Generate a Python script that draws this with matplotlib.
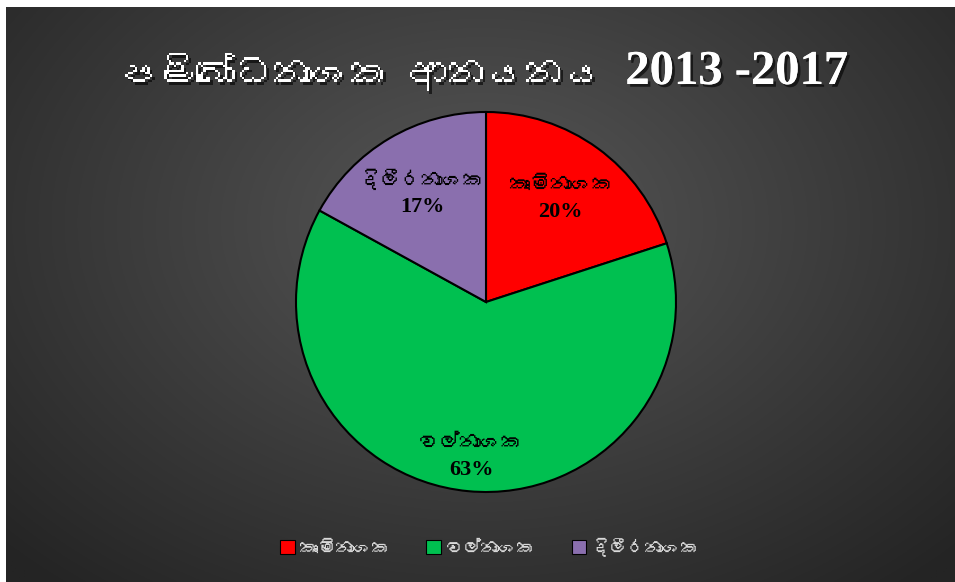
import numpy as np
import matplotlib
matplotlib.use("Agg")
import matplotlib.pyplot as plt
from matplotlib import font_manager
from matplotlib.ft2font import FT2Font
import matplotlib.patheffects as pe
from matplotlib.patches import Patch

# ---- data ----
categories = ["කෘමිනාශක", "වල්නාශක", "දිලීරනාශක"]
shares = [20, 63, 17]
colors = ["#FF0000", "#00C050", "#8A6FAE"]
title_si = "පළිබෝධනාශක ආනයනය"
title_years = "2013 -2017"

# find a font with Sinhala glyphs, if any
sinhala_fonts = []
for f in font_manager.fontManager.ttflist:
    try:
        ft = FT2Font(f.fname)
        if 0x0D9A in ft.get_charmap():
            sinhala_fonts.append(f.name)
    except Exception:
        pass
sinhala_fonts = list(dict.fromkeys(sinhala_fonts))

W, H = 955, 582
fig = plt.figure(figsize=(W / 100, H / 100), dpi=100)
fig.patch.set_facecolor("white")

# background gradient panel
bg = fig.add_axes([6 / W, 0, (W - 6) / W, (H - 7) / H])
bg.set_axis_off()
yy, xx = np.mgrid[0:400, 0:600]
cx, cy = 300, 150
d = np.sqrt(((xx - cx) / 420) ** 2 + ((yy - cy) / 330) ** 2)
d = np.clip(d, 0, 1)
light = np.array([0x57, 0x57, 0x57]) / 255
dark = np.array([0x24, 0x24, 0x24]) / 255
img = light[None, None, :] * (1 - d[..., None]) + dark[None, None, :] * d[..., None]
bg.imshow(img, aspect="auto", extent=[0, 1, 0, 1], origin="upper")
bg.set_xlim(0, 1)
bg.set_ylim(0, 1)

fam_serif = ["Liberation Serif"] + sinhala_fonts + ["DejaVu Sans"]
fam_sans = sinhala_fonts + ["DejaVu Sans"]

shadow = [pe.withSimplePatchShadow(offset=(2, -2), shadow_rgbFace="black", alpha=0.6), pe.Normal()]

# title
fig.text(118 / W, 1 - 72 / H, title_si, ha="left", va="center",
         fontsize=28, color="white", family=fam_sans, path_effects=shadow)
fig.text(848 / W, 1 - 72 / H, title_years, ha="right", va="center",
         fontsize=35, color="white", family=["Liberation Serif"], fontweight="bold",
         path_effects=shadow)

# pie
r = 190
cxp, cyp = 486, 302
ax = fig.add_axes([(cxp - r) / W, (H - cyp - r) / H, 2 * r / W, 2 * r / H])
ax.set_axis_off()
wedges, _ = ax.pie(shares, colors=colors, startangle=90, counterclock=False,
                   radius=1, center=(0, 0), frame=False,
                   wedgeprops=dict(edgecolor="black", linewidth=1.5))
ax.set_xlim(-1, 1)
ax.set_ylim(-1, 1)

dist = [0.67, 0.82, 0.66]
for w, cat, s, dd in zip(wedges, categories, shares, dist):
    ang = np.deg2rad((w.theta1 + w.theta2) / 2)
    x, y = dd * np.cos(ang), dd * np.sin(ang)
    ax.text(x, y + 0.07, cat, ha="center", va="center", fontsize=15,
            fontweight="bold", color="black", family=fam_serif)
    ax.text(x, y - 0.07, f"{s}%", ha="center", va="center", fontsize=16,
            fontweight="bold", color="black", family=["Liberation Serif"])

# legend
handles = [Patch(facecolor=c, edgecolor="black", linewidth=0.8) for c in colors]
leg = fig.legend(handles, categories, loc="center", bbox_to_anchor=(490 / W, 1 - 547 / H),
                 ncol=3, frameon=False, labelcolor="#D9D9D9",
                 handlelength=0.8, handleheight=0.8, handletextpad=0.3, columnspacing=2.0,
                 prop=dict(family=fam_sans, size=13))

fig.savefig("out.png", dpi=100, facecolor=fig.get_facecolor())
